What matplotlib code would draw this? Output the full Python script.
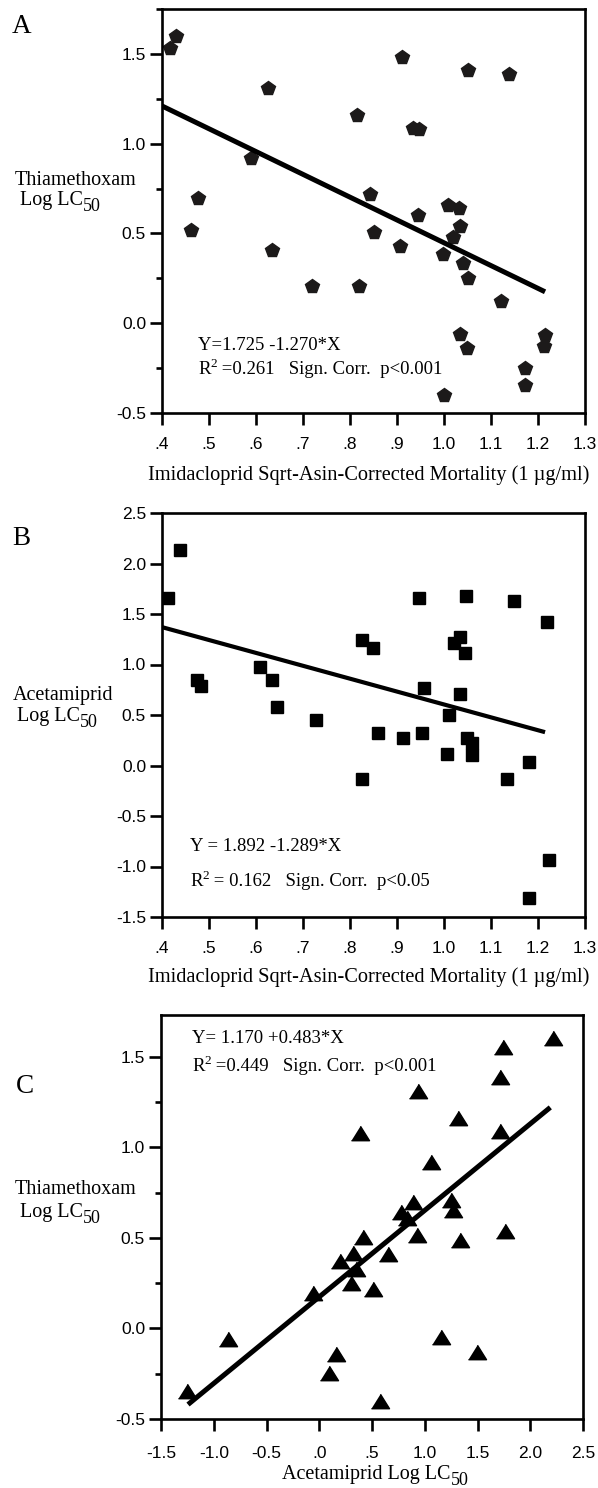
import matplotlib
matplotlib.use('Agg')
import matplotlib.pyplot as plt
from matplotlib.ticker import MultipleLocator

# ---------------- data ----------------
# Panel A: imidacloprid mortality vs thiamethoxam log LC50
imi_a = [0.417, 0.43, 0.625, 0.59, 0.477, 0.462, 0.634, 0.911, 1.051, 1.138,
         0.815, 0.934, 0.947, 0.843, 1.008, 1.032, 0.944, 1.034, 0.851, 1.02,
         0.906, 0.998, 1.041, 1.051, 0.719, 0.819, 1.121, 1.034, 1.049, 1.215,
         1.213, 1.172, 1.172, 1.0]
thia_a = [1.533, 1.60, 1.31, 0.92, 0.70, 0.52, 0.406, 1.48, 1.41, 1.39,
          1.16, 1.09, 1.08, 0.717, 0.656, 0.644, 0.60, 0.539, 0.51, 0.478,
          0.428, 0.383, 0.333, 0.25, 0.21, 0.206, 0.122, -0.06, -0.14, -0.067,
          -0.127, -0.25, -0.344, -0.40]
fit_a_x = [0.40, 1.215]
fit_a_y = [1.21, 0.175]

# Panel B: imidacloprid mortality vs acetamiprid log LC50
imi_b = [0.438, 0.413, 0.474, 0.483, 0.609, 0.634, 0.645, 0.947, 1.047, 1.149,
         1.219, 0.826, 0.849, 1.034, 1.022, 1.045, 0.957, 1.034, 1.011, 0.728,
         0.86, 0.913, 0.953, 1.049, 1.06, 1.007, 1.06, 1.181, 0.826, 1.134,
         1.224, 1.181]
acet_b = [2.13, 1.66, 0.85, 0.79, 0.98, 0.85, 0.58, 1.66, 1.68, 1.63,
          1.42, 1.24, 1.16, 1.27, 1.21, 1.11, 0.77, 0.71, 0.50, 0.455,
          0.32, 0.27, 0.32, 0.27, 0.22, 0.11, 0.10, 0.03, -0.13, -0.13,
          -0.94, -1.31]
fit_b_x = [0.40, 1.215]
fit_b_y = [1.37, 0.33]

# Panel C: acetamiprid log LC50 vs thiamethoxam log LC50
acet_c = [2.216, 1.742, 1.713, 0.936, 1.315, 0.386, 1.713, 1.06, 1.25, 1.27,
          0.889, 0.775, 0.83, 1.76, 0.415, 0.927, 1.334, 0.32, 0.652, 0.197,
          0.35, 0.30, 0.51, -0.06, 1.154, 1.495, 0.159, 0.092, 0.576, -0.864,
          -1.254]
thia_c = [1.605, 1.555, 1.39, 1.31, 1.16, 1.08, 1.09, 0.92, 0.71, 0.655,
          0.70, 0.64, 0.61, 0.54, 0.506, 0.517, 0.49, 0.417, 0.41, 0.37,
          0.33, 0.25, 0.22, 0.196, -0.047, -0.13, -0.14, -0.245, -0.40, -0.058,
          -0.345]
fit_c_x = [-1.244, 2.19]
fit_c_y = [-0.42, 1.22]

# tick labels
imi_ticks = [0.4, 0.5, 0.6, 0.7, 0.8, 0.9, 1.0, 1.1, 1.2, 1.3]
imi_labels = ['.4', '.5', '.6', '.7', '.8', '.9', '1.0', '1.1', '1.2', '1.3']
thia_ticks = [-0.5, 0.0, 0.5, 1.0, 1.5]
thia_labels = ['-0.5', '0.0', '0.5', '1.0', '1.5']
acet_y_ticks = [-1.5, -1.0, -0.5, 0.0, 0.5, 1.0, 1.5, 2.0, 2.5]
acet_y_labels = ['-1.5', '-1.0', '-0.5', '0.0', '0.5', '1.0', '1.5', '2.0', '2.5']
acet_x_ticks = [-1.5, -1.0, -0.5, 0.0, 0.5, 1.0, 1.5, 2.0, 2.5]
acet_x_labels = ['-1.5', '-1.0', '-0.5', '.0', '.5', '1.0', '1.5', '2.0', '2.5']

eq_a = ['Y=1.725 -1.270*X', ' =0.261   Sign. Corr.  p<0.001']
eq_b = ['Y = 1.892 -1.289*X', ' = 0.162   Sign. Corr.  p<0.05']
eq_c = ['Y= 1.170 +0.483*X', ' =0.449   Sign. Corr.  p<0.001']

xlabel_imi = 'Imidacloprid Sqrt-Asin-Corrected Mortality (1 \u00b5g/ml)'

# ---------------- figure ----------------
W, H = 598, 1488
fig = plt.figure(figsize=(W / 100, H / 100), dpi=100)
renderer = fig.canvas.get_renderer()
serif = 'Liberation Serif'

def fx(px):
    return px / W

def fy(py):
    return 1 - py / H

def chain(x, y, parts):
    # pieces of text set one after the other; dy shifts a piece down (px)
    cur = fx(x)
    for s, size, dy in parts:
        t = fig.text(cur, fy(y + dy), s, family=serif, fontsize=size)
        bb = t.get_window_extent(renderer=renderer)
        cur = bb.x1 / W

def r2_line(x, y, rest):
    chain(x, y, [('R', 13.5, 0), ('2', 9.5, -7), (rest, 13.5, 0)])

def lc50(x, y, head):
    chain(x, y, [(head, 14.5, 0), ('50', 13, 6)])

def make_axes(left, top, right, bottom, xpad):
    ax = fig.add_axes([fx(left), fy(bottom), fx(right) - fx(left), fy(top) - fy(bottom)])
    for s in ax.spines.values():
        s.set_linewidth(1.9)
    ax.tick_params(which='major', direction='out', length=8.5, width=1.9,
                   labelsize=12.5, top=False, right=False)
    ax.tick_params(which='minor', direction='out', length=4.3, width=1.9,
                   top=False, right=False)
    ax.tick_params(axis='x', pad=xpad)
    ax.tick_params(axis='y', pad=3)
    return ax

def style_ticks(ax):
    for lab in ax.get_xticklabels() + ax.get_yticklabels():
        lab.set_family('Liberation Sans')

tri = [(-1, -0.8), (1, -0.8), (0, 0.8)]

# ---- Panel A ----
ax = make_axes(162, 9, 585, 413, 9)
ax.plot(imi_a, thia_a, linestyle='none', marker='p', markersize=10.5,
        color='#1c1a1a')
ax.plot(fit_a_x, fit_a_y, color='black', linewidth=3.6, solid_capstyle='butt')
ax.set_xlim(0.4, 1.3)
ax.set_ylim(-0.5, 1.75)
ax.set_xticks(imi_ticks, imi_labels)
ax.set_yticks(thia_ticks, thia_labels)
ax.yaxis.set_minor_locator(MultipleLocator(0.25))
style_ticks(ax)
fig.text(fx(198), fy(350), eq_a[0], family=serif, fontsize=13.5)
r2_line(198, 374, eq_a[1])
fig.text(fx(12), fy(33), 'A', family=serif, fontsize=19.5)
fig.text(fx(15), fy(185), 'Thiamethoxam', family=serif, fontsize=14.5)
lc50(20, 205, 'Log LC')
fig.text(fx(369), fy(480), xlabel_imi, family=serif, fontsize=14.7, ha='center')

# ---- Panel B ----
ax = make_axes(162, 513, 585, 917, 9)
ax.plot(imi_b, acet_b, linestyle='none', marker='s', markersize=8,
        color='black')
ax.plot(fit_b_x, fit_b_y, color='black', linewidth=3.0, solid_capstyle='butt')
ax.set_xlim(0.4, 1.3)
ax.set_ylim(-1.5, 2.5)
ax.set_xticks(imi_ticks, imi_labels)
ax.set_yticks(acet_y_ticks, acet_y_labels)
style_ticks(ax)
fig.text(fx(190), fy(851), eq_b[0], family=serif, fontsize=13.5)
r2_line(190, 886, eq_b[1])
fig.text(fx(12), fy(545), 'B', family=serif, fontsize=19.5)
fig.text(fx(13), fy(700), 'Acetamiprid', family=serif, fontsize=14.5)
lc50(17, 721, 'Log LC')
fig.text(fx(369), fy(982), xlabel_imi, family=serif, fontsize=14.7, ha='center')

# ---- Panel C ----
ax = make_axes(161, 1015, 583, 1419, 11)
ax.plot(acet_c, thia_c, linestyle='none', marker=tri, markersize=13,
        color='black')
ax.plot(fit_c_x, fit_c_y, color='black', linewidth=3.6, solid_capstyle='butt')
ax.set_xlim(-1.5, 2.5)
ax.set_ylim(-0.5, 1.73)
ax.set_xticks(acet_x_ticks, acet_x_labels)
ax.set_yticks(thia_ticks, thia_labels)
ax.yaxis.set_minor_locator(MultipleLocator(0.25))
style_ticks(ax)
fig.text(fx(192), fy(1043), eq_c[0], family=serif, fontsize=13.5)
r2_line(192, 1071, eq_c[1])
fig.text(fx(16), fy(1093), 'C', family=serif, fontsize=19.5)
fig.text(fx(15), fy(1194), 'Thiamethoxam', family=serif, fontsize=14.5)
lc50(20, 1217, 'Log LC')
lc50(282, 1479, 'Acetamiprid Log LC')

fig.savefig('out.png', dpi=100)
